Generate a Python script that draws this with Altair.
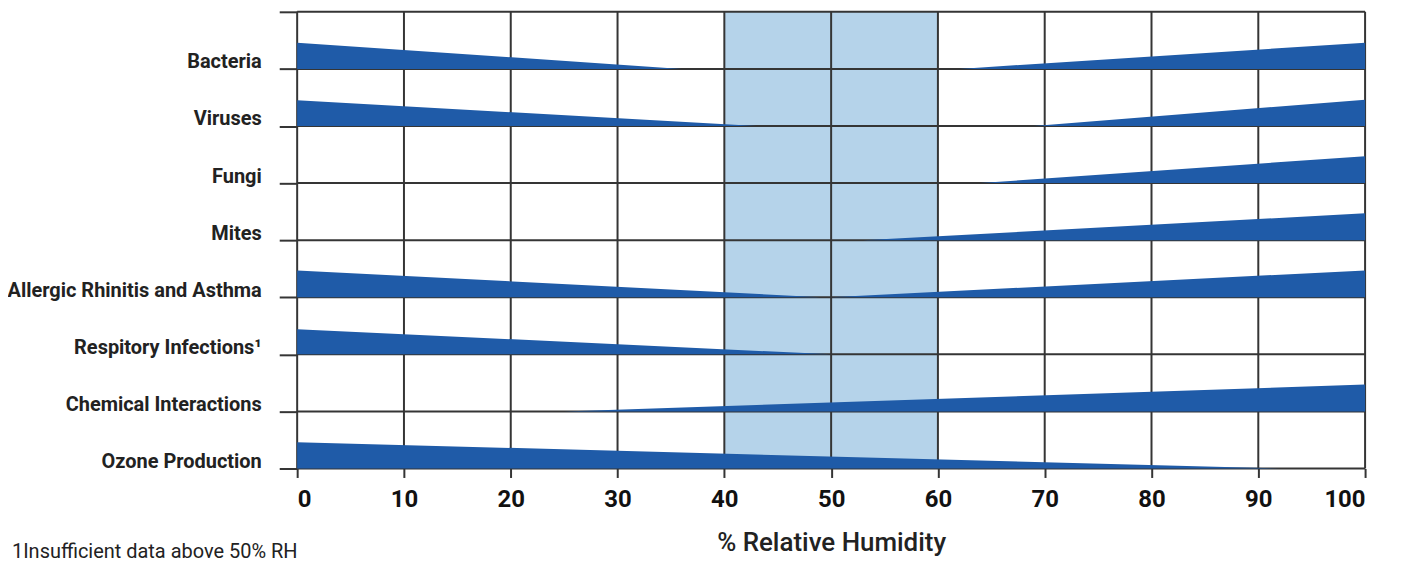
import json
import altair as alt
import pandas as pd

# ---- data ----
categories = [
    "Bacteria",
    "Viruses",
    "Fungi",
    "Mites",
    "Allergic Rhinitis and Asthma",
    "Respitory Infections¹",
    "Chemical Interactions",
    "Ozone Production",
]
# each wedge: category, start RH, end RH, thickness at start, thickness at end (row units)
wedge_cat = ["Bacteria", "Bacteria", "Viruses", "Viruses", "Fungi", "Mites",
             "Allergic Rhinitis and Asthma", "Allergic Rhinitis and Asthma",
             "Respitory Infections¹", "Chemical Interactions", "Ozone Production"]
wedge_from = [0, 62, 0, 69, 64, 53, 0, 50, 0, 25, 0]
wedge_to = [36, 100, 43, 100, 100, 100, 49, 100, 50, 100, 92]
wedge_h_from = [0.46, 0.0, 0.45, 0.0, 0.0, 0.0, 0.47, 0.0, 0.44, 0.0, 0.46]
wedge_h_to = [0.0, 0.46, 0.0, 0.46, 0.47, 0.47, 0.0, 0.47, 0.0, 0.47, 0.0]
x_ticks = [0, 10, 20, 30, 40, 50, 60, 70, 80, 90, 100]
optimal_band = [40, 60]
footnote = "1Insufficient data above 50% RH"

n = len(categories)
rows = []
for i, c in enumerate(wedge_cat):
    base = n - 1 - categories.index(c)
    rows.append({"wid": i, "x": wedge_from[i], "base": base, "top": base + wedge_h_from[i]})
    rows.append({"wid": i, "x": wedge_to[i], "base": base, "top": base + wedge_h_to[i]})
wedges = pd.DataFrame(rows)

GRID = "#353535"
BLUE = "#1f5ba8"
LIGHT = "#b5d3ea"
FONT = "Roboto"

label_arr = json.dumps(list(reversed(categories)))
xscale = alt.Scale(domain=[0, 100], nice=False, zero=False)
yscale = alt.Scale(domain=[0, n], nice=False, zero=False)

xaxis = alt.Axis(values=x_ticks, grid=False, domain=False, tickSize=9, tickWidth=2,
                 tickColor=GRID, labelFont=FONT, labelFontSize=24, labelFontWeight="bold",
                 labelColor="#111", labelPadding=10, title="% Relative Humidity",
                 titleFont="Roboto", titleFontSize=26, titleFontWeight=500,
                 titleColor="#222", titlePadding=18)
yaxis = alt.Axis(values=list(range(n + 1)), grid=False, domain=False, tickSize=18,
                 tickWidth=2, tickColor=GRID, labelFont=FONT, labelFontSize=20,
                 labelFontWeight="bold", labelColor="#222", labelPadding=18,
                 labelLimit=0, labelBaseline="alphabetic", labelOffset=-1,
                 labelExpr=f"datum.value < {n} ? {label_arr}[datum.value] : ''",
                 title=None)

band = alt.Chart(pd.DataFrame({"a": [optimal_band[0]], "b": [optimal_band[1]]})).mark_rect(
    color=LIGHT).encode(
    x=alt.X("a:Q", scale=xscale, axis=xaxis), x2="b:Q",
    y=alt.datum(0, scale=yscale, axis=yaxis), y2=alt.datum(n))

vgrid = alt.Chart(pd.DataFrame({"x": x_ticks})).mark_rule(color=GRID, strokeWidth=2).encode(
    x=alt.X("x:Q", scale=xscale), y=alt.datum(0), y2=alt.datum(n))

hgrid = alt.Chart(pd.DataFrame({"y": list(range(n + 1))})).mark_rule(
    color=GRID, strokeWidth=2).encode(
    y=alt.Y("y:Q", scale=yscale), x=alt.datum(0), x2=alt.datum(100))

area = alt.Chart(wedges).mark_area(color=BLUE, opacity=1).encode(
    x=alt.X("x:Q", scale=xscale), y=alt.Y("top:Q", scale=yscale), y2="base:Q",
    detail="wid:N")

note = alt.Chart(pd.DataFrame({"t": [footnote]})).mark_text(
    align="left", baseline="alphabetic", font="Roboto", fontSize=20, color="#222").encode(
    x=alt.value(-286), y=alt.value(548), text="t:N")

chart = alt.layer(band, vgrid, hgrid, area, note).properties(
    width=1071, height=458,
    autosize=alt.AutoSizeParams(type="none"),
    padding={"left": 290, "top": 3, "right": 30, "bottom": 110},
).configure_view(strokeWidth=0)

chart.save("out.html", embed_options={"renderer": "svg", "actions": False})
